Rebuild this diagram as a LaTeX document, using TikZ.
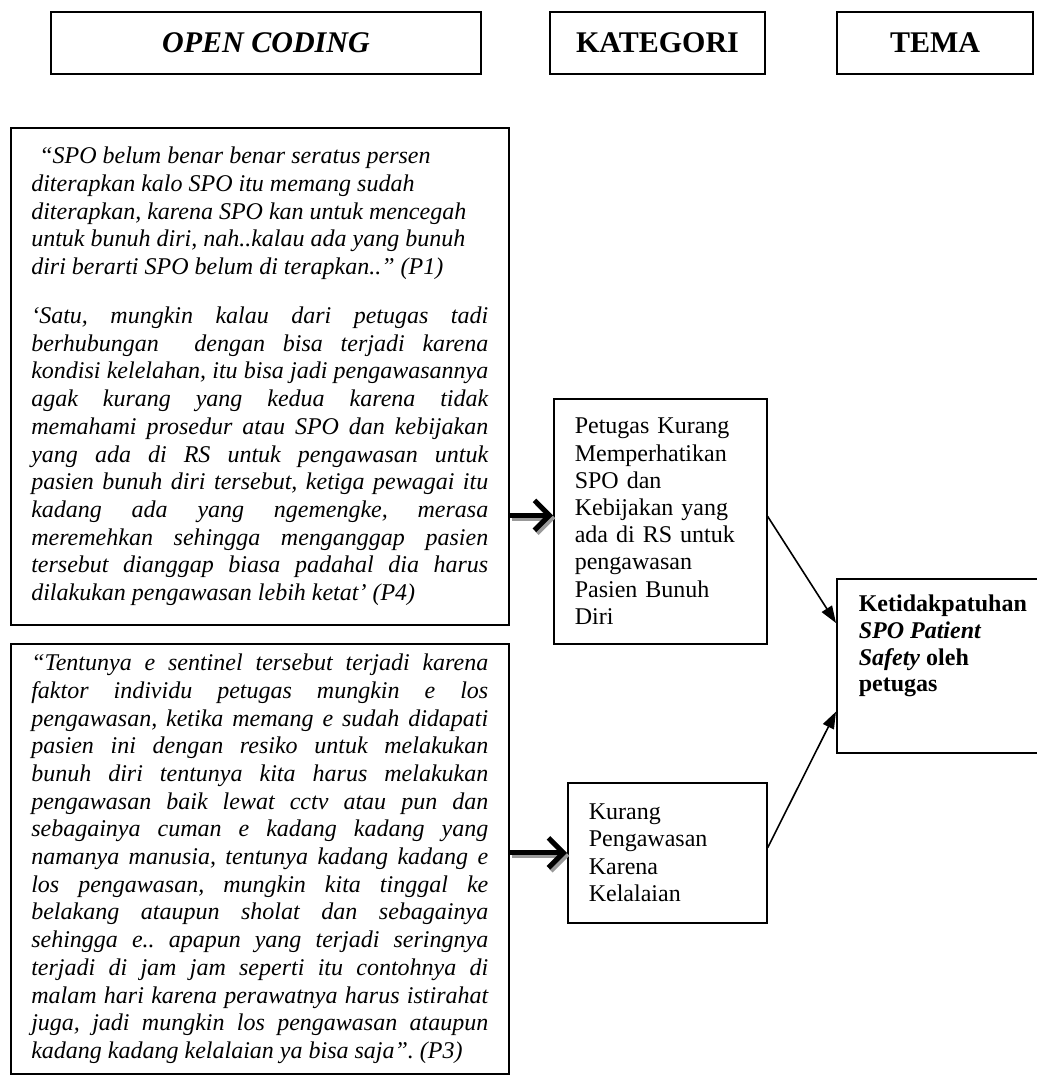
\documentclass[tikz,border=0pt]{standalone}
\usepackage{fontspec}
\setmainfont{Liberation Serif}
\usetikzlibrary{arrows.meta}

\newcommand\quotefont{\fontsize{12pt}{13.85pt}\selectfont\itshape\frenchspacing
  \parindent=0pt\hyphenpenalty=10000\tolerance=9999\emergencystretch=10pt}

\begin{document}
\begin{tikzpicture}[x=0.5pt,y=-0.5pt,
  headbox/.style={draw,line width=1pt,anchor=north west,minimum height=31pt,inner sep=0pt,
    font=\fontsize{15pt}{17pt}\selectfont\bfseries},
  quotebox/.style={draw,line width=0.8pt,anchor=north west,text width=228.5pt,
    inner xsep=10.25pt,align=justify,font=\quotefont},
  katbox/.style={draw,line width=0.8pt,anchor=north west,inner xsep=10.5pt,align=left,
    font=\fontsize{12pt}{13.6pt}\selectfont},
  temabox/.style={draw,line width=0.8pt,anchor=north west,inner xsep=11pt,inner ysep=8pt},
  bigarrow/.style={line width=2.5pt,-{Straight Barb[length=7.5pt,width=15pt]}},
  bigshadow/.style={bigarrow,draw=black!40,transform canvas={xshift=1.2pt,yshift=-1.5pt}},
  smallarrow/.style={line width=0.8pt,-{Triangle[length=8.5pt,width=6pt]}}]
  \useasboundingbox (0,0) rectangle (1037,1077);
  \node[headbox,minimum width=215pt] (hopen) at (50,11) {\textit{OPEN CODING}};
  \node[headbox,minimum width=107.5pt] (hkat) at (549,11) {KATEGORI};
  \node[headbox,minimum width=98pt] (htema) at (836,11) {TEMA};
  \node[quotebox,minimum height=248.5pt] (q1) at (10,127) {%
    \hspace*{4pt}“SPO belum benar benar seratus persen\newline
    diterapkan kalo SPO itu memang sudah\newline
    diterapkan, karena SPO kan untuk mencegah\newline
    untuk bunuh diri, nah..kalau ada yang bunuh\newline
    diri berarti SPO belum di terapkan..” (P1)\par\vspace{10.7pt}
    ‘Satu, mungkin kalau dari petugas tadi\linebreak
    berhubungan\ \ dengan bisa terjadi karena\linebreak
    kondisi kelelahan, itu bisa jadi pengawasannya\linebreak
    agak kurang yang kedua karena tidak\linebreak
    memahami prosedur atau SPO dan kebijakan\linebreak
    yang ada di RS untuk pengawasan untuk\linebreak
    pasien bunuh diri tersebut, ketiga pewagai itu\linebreak
    kadang ada yang ngemengke, merasa\linebreak
    meremehkan sehingga menganggap pasien\linebreak
    tersebut dianggap biasa padahal dia harus\linebreak
    dilakukan pengawasan lebih ketat’ (P4)};
  \node[quotebox,minimum height=215pt] (q2) at (10,643) {%
    “Tentunya e sentinel tersebut terjadi karena\linebreak
    faktor individu petugas mungkin e los\linebreak
    pengawasan, ketika memang e sudah didapati\linebreak
    pasien ini dengan resiko untuk melakukan\linebreak
    bunuh diri tentunya kita harus melakukan\linebreak
    pengawasan baik lewat cctv atau pun dan\linebreak
    sebagainya cuman e kadang kadang yang\linebreak
    namanya manusia, tentunya kadang kadang e\linebreak
    los pengawasan, mungkin kita tinggal ke\linebreak
    belakang ataupun sholat dan sebagainya\linebreak
    sehingga e.. apapun yang terjadi seringnya\linebreak
    terjadi di jam jam seperti itu contohnya di\linebreak
    malam hari karena perawatnya harus istirahat\linebreak
    juga, jadi mungkin los pengawasan ataupun\linebreak
    kadang kadang kelalaian ya bisa saja”. (P3)};
  \node[katbox,text width=85.5pt,minimum height=122.5pt] (k1) at (553,398)
    {Petugas Kurang\\ Memperhatikan\\ SPO dan\\ Kebijakan yang\\ ada di RS untuk\\
     pengawasan\\ Pasien Bunuh\\ Diri};
  \node[katbox,text width=78.5pt,minimum height=70pt] (k2) at (567,782)
    {Kurang\\ Pengawasan\\ Karena\\ Kelalaian};
  \node[temabox] (t1) at (836,578) {\parbox[c][71pt][t]{90pt}{\raggedright
    \fontsize{12pt}{13.4pt}\selectfont\bfseries Ketidakpatuhan\\
    \textit{SPO Patient}\\ \textit{Safety} oleh\\ petugas}};
  \draw[bigshadow] ([yshift=3pt]q1.east |- k1.west) -- ([yshift=3pt]k1.west);
  \draw[bigarrow] ([yshift=3pt]q1.east |- k1.west) -- ([yshift=3pt]k1.west);
  \draw[bigshadow] (q2.east |- k2.west) -- (k2.west);
  \draw[bigarrow] (q2.east |- k2.west) -- (k2.west);
  \draw[smallarrow] ([yshift=2.5pt]k1.east) -- ([yshift=-22.5pt]t1.north west);
  \draw[smallarrow] ([yshift=2.5pt]k2.east) -- ([yshift=21pt]t1.south west);
\end{tikzpicture}
\end{document}
